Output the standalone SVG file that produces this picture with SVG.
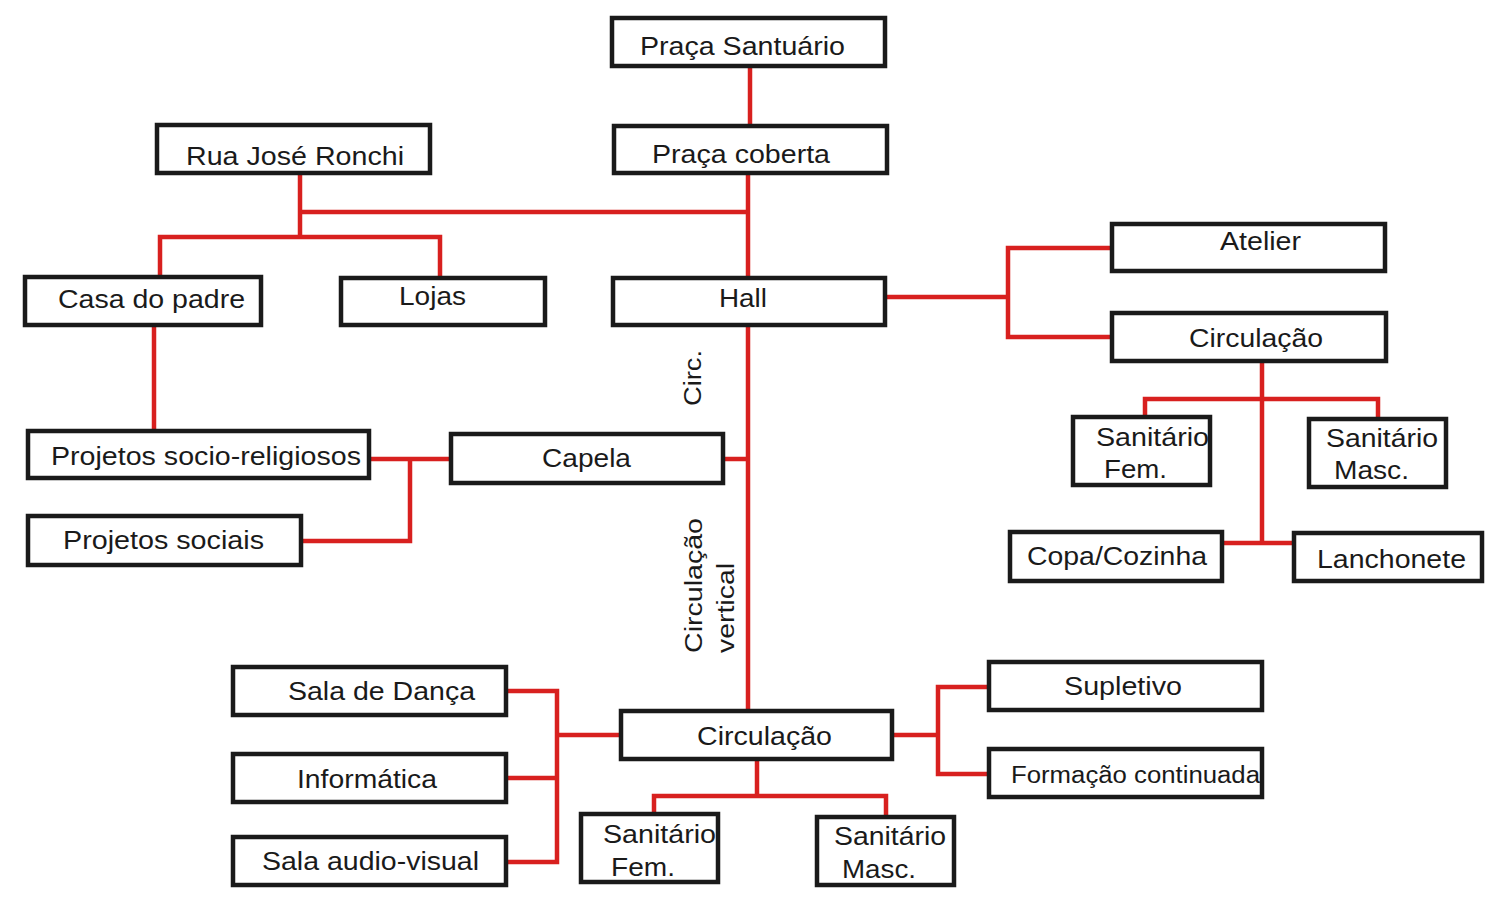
<svg xmlns="http://www.w3.org/2000/svg" width="1495" height="897" viewBox="0 0 1495 897">
<style>
.box{fill:#fff;stroke:#1a1a1a;stroke-width:4.5}
.t{font-family:"Liberation Sans",Arial,sans-serif;font-size:26px;fill:#1a1a1a}
.s{font-size:23px}
.c{fill:none;stroke:#d8201f;stroke-width:4.5}
</style>
<rect width="1495" height="897" fill="#fff"/>
<g id="connectors" class="c">
<path d="M750 67V125"/>
<path d="M748 174V277"/>
<path d="M300 212H748"/>
<path d="M300 174V237"/>
<path d="M160 276V237H440V277"/>
<path d="M154 326V430"/>
<path d="M748 326V710"/>
<path d="M724 459H748"/>
<path d="M370 459H450"/>
<path d="M302 541H410V459"/>
<path d="M886 297H1008"/>
<path d="M1111 248H1008V337H1111"/>
<path d="M1262 362V543"/>
<path d="M1145 416V399H1378V418"/>
<path d="M1223 543H1293"/>
<path d="M557 735H620"/>
<path d="M507 691H557V862H507"/>
<path d="M507 778H557"/>
<path d="M893 735H938"/>
<path d="M988 687H938V774H988"/>
<path d="M757 760V796"/>
<path d="M654 813V796H886V816"/>
</g>
<g id="n-praca-santuario"><rect class="box" x="612" y="18" width="273" height="48"/><text class="t" x="640" y="55" textLength="205" lengthAdjust="spacingAndGlyphs">Praça Santuário</text></g>
<g id="n-praca-coberta"><rect class="box" x="614" y="126" width="273" height="47"/><text class="t" x="652" y="163" textLength="178" lengthAdjust="spacingAndGlyphs">Praça coberta</text></g>
<g id="n-rua"><rect class="box" x="157" y="125" width="273" height="48"/><text class="t" x="186" y="165" textLength="218" lengthAdjust="spacingAndGlyphs">Rua José Ronchi</text></g>
<g id="n-casa"><rect class="box" x="25" y="277" width="236" height="48"/><text class="t" x="58" y="308" textLength="187" lengthAdjust="spacingAndGlyphs">Casa do padre</text></g>
<g id="n-lojas"><rect class="box" x="341" y="278" width="204" height="47"/><text class="t" x="399" y="305" textLength="67" lengthAdjust="spacingAndGlyphs">Lojas</text></g>
<g id="n-hall"><rect class="box" x="613" y="278" width="272" height="47"/><text class="t" x="719" y="307" textLength="48" lengthAdjust="spacingAndGlyphs">Hall</text></g>
<g id="n-atelier"><rect class="box" x="1112" y="224" width="273" height="47"/><text class="t" x="1220" y="250" textLength="81" lengthAdjust="spacingAndGlyphs">Atelier</text></g>
<g id="n-circ-right"><rect class="box" x="1112" y="313" width="274" height="48"/><text class="t" x="1189" y="347" textLength="134" lengthAdjust="spacingAndGlyphs">Circulação</text></g>
<g id="n-sanfem-right"><rect class="box" x="1073" y="417" width="137" height="68"/><text class="t" x="1096" y="446" textLength="113" lengthAdjust="spacingAndGlyphs">Sanitário</text><text class="t" x="1104" y="478" textLength="63" lengthAdjust="spacingAndGlyphs">Fem.</text></g>
<g id="n-sanmasc-right"><rect class="box" x="1309" y="419" width="137" height="68"/><text class="t" x="1326" y="447" textLength="112" lengthAdjust="spacingAndGlyphs">Sanitário</text><text class="t" x="1334" y="479" textLength="75" lengthAdjust="spacingAndGlyphs">Masc.</text></g>
<g id="n-copa"><rect class="box" x="1010" y="532" width="212" height="49"/><text class="t" x="1027" y="565" textLength="180" lengthAdjust="spacingAndGlyphs">Copa/Cozinha</text></g>
<g id="n-lanchonete"><rect class="box" x="1294" y="533" width="188" height="48"/><text class="t" x="1317" y="568" textLength="149" lengthAdjust="spacingAndGlyphs">Lanchonete</text></g>
<g id="n-proj-socio-rel"><rect class="box" x="28" y="431" width="341" height="47"/><text class="t" x="51" y="465" textLength="310" lengthAdjust="spacingAndGlyphs">Projetos socio-religiosos</text></g>
<g id="n-capela"><rect class="box" x="451" y="434" width="272" height="49"/><text class="t" x="542" y="467" textLength="89" lengthAdjust="spacingAndGlyphs">Capela</text></g>
<g id="n-proj-sociais"><rect class="box" x="28" y="516" width="273" height="49"/><text class="t" x="63" y="549" textLength="201" lengthAdjust="spacingAndGlyphs">Projetos sociais</text></g>
<g id="n-danca"><rect class="box" x="233" y="667" width="273" height="48"/><text class="t" x="288" y="700" textLength="187" lengthAdjust="spacingAndGlyphs">Sala de Dança</text></g>
<g id="n-informatica"><rect class="box" x="233" y="754" width="273" height="48"/><text class="t" x="297" y="788" textLength="140" lengthAdjust="spacingAndGlyphs">Informática</text></g>
<g id="n-audio"><rect class="box" x="233" y="837" width="273" height="48"/><text class="t" x="262" y="870" textLength="217" lengthAdjust="spacingAndGlyphs">Sala audio-visual</text></g>
<g id="n-circ-bottom"><rect class="box" x="621" y="711" width="271" height="48"/><text class="t" x="697" y="745" textLength="135" lengthAdjust="spacingAndGlyphs">Circulação</text></g>
<g id="n-sanfem-bottom"><rect class="box" x="581" y="814" width="137" height="68"/><text class="t" x="603" y="843" textLength="113" lengthAdjust="spacingAndGlyphs">Sanitário</text><text class="t" x="611" y="876" textLength="64" lengthAdjust="spacingAndGlyphs">Fem.</text></g>
<g id="n-sanmasc-bottom"><rect class="box" x="817" y="817" width="137" height="68"/><text class="t" x="834" y="845" textLength="112" lengthAdjust="spacingAndGlyphs">Sanitário</text><text class="t" x="842" y="878" textLength="74" lengthAdjust="spacingAndGlyphs">Masc.</text></g>
<g id="n-supletivo"><rect class="box" x="989" y="662" width="273" height="48"/><text class="t" x="1064" y="695" textLength="118" lengthAdjust="spacingAndGlyphs">Supletivo</text></g>
<g id="n-formacao"><rect class="box" x="989" y="749" width="273" height="48"/><text class="t s" x="1011" y="783" textLength="249" lengthAdjust="spacingAndGlyphs">Formação continuada</text></g>
<g id="labels">
<text class="t s" transform="translate(701 406) rotate(-90)" textLength="56" lengthAdjust="spacingAndGlyphs">Circ.</text>
<text class="t s" transform="translate(702 653) rotate(-90)" textLength="135" lengthAdjust="spacingAndGlyphs">Circulação</text>
<text class="t s" transform="translate(734 653) rotate(-90)" textLength="90" lengthAdjust="spacingAndGlyphs">vertical</text>
</g>
</svg>
